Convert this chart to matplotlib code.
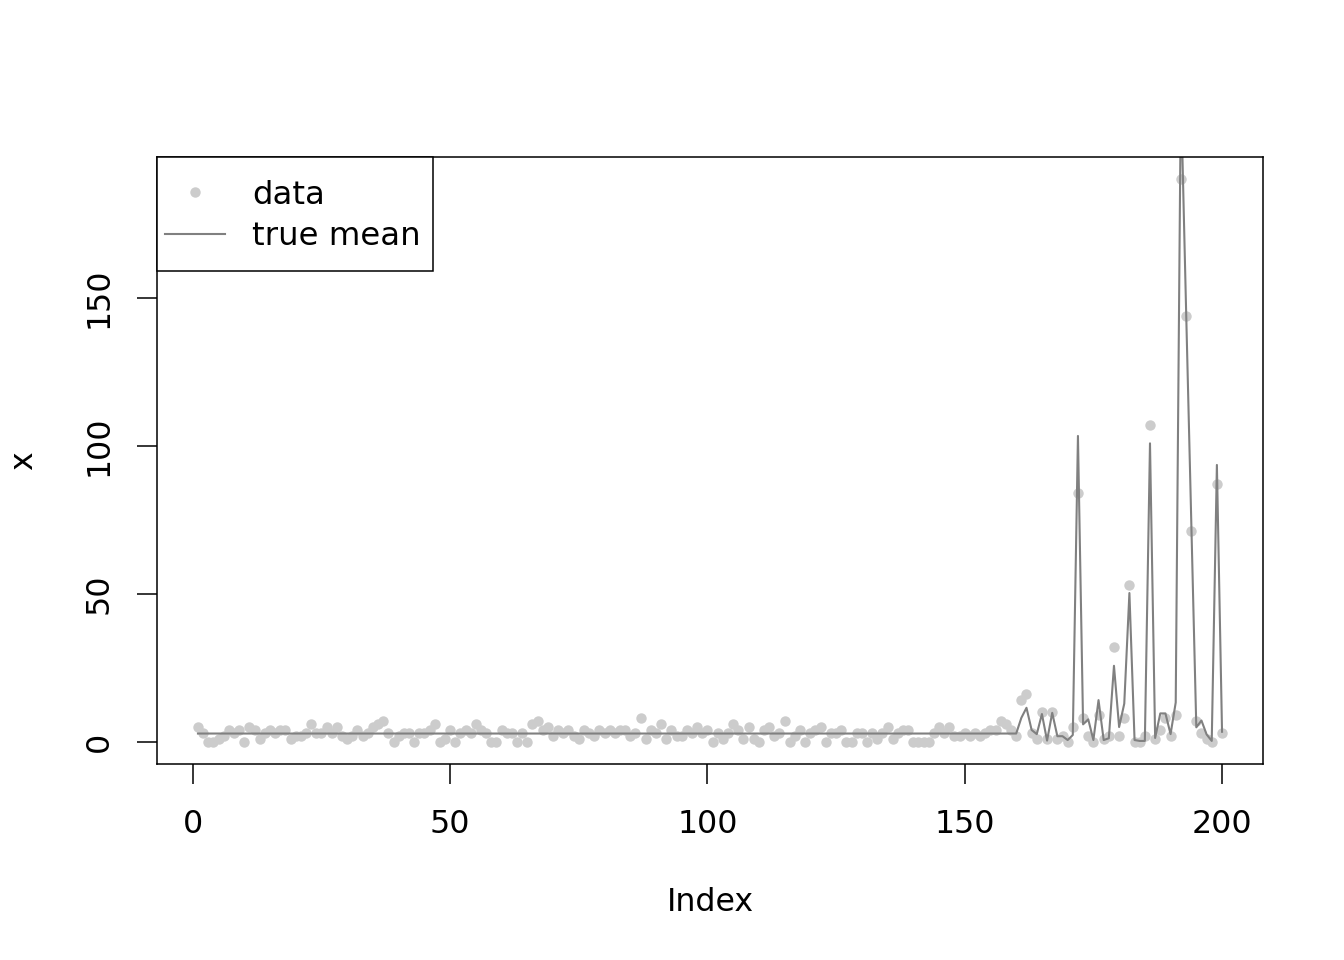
import matplotlib
matplotlib.use("Agg")
import matplotlib.pyplot as plt
from matplotlib.patches import Rectangle
import numpy as np

# observed counts, index 1..200
obs = [5, 3, 0, 0, 1, 2, 4, 3, 4, 0,
       5, 4, 1, 3, 4, 3, 4, 4, 1, 2,
       2, 3, 6, 3, 3, 5, 3, 5, 2, 1,
       2, 4, 2, 3, 5, 6, 7, 3, 0, 2,
       3, 3, 0, 3, 3, 4, 6, 0, 1, 4,
       0, 3, 4, 3, 6, 4, 3, 0, 0, 4,
       3, 3, 0, 3, 0, 6, 7, 4, 5, 2,
       4, 3, 4, 2, 1, 4, 3, 2, 4, 3,
       4, 3, 4, 4, 2, 3, 8, 1, 4, 3,
       6, 1, 4, 2, 2, 4, 3, 5, 3, 4,
       0, 3, 1, 3, 6, 4, 1, 5, 1, 0,
       4, 5, 2, 3, 7, 0, 2, 4, 0, 3,
       4, 5, 0, 3, 3, 4, 0, 0, 3, 3,
       0, 3, 1, 3, 5, 1, 3, 4, 4, 0,
       0, 0, 0, 3, 5, 3, 5, 2, 2, 3,
       2, 3, 2, 3, 4, 4, 7, 6, 4, 2,
       14, 16, 3, 1, 10, 1, 10, 1, 2, 0,
       5, 84, 8, 2, 0, 9, 1, 2, 32, 2,
       8, 53, 0, 0, 2, 107, 1, 4, 8, 2,
       9, 190, 144, 71, 7, 3, 1, 0, 87, 3]

# true mean: flat for the first 160, then varying
mean_flat = [2.7] * 160
mean_tail = [8.0, 11.4, 3.9, 2.5, 9.3, 0.3, 9.7, 1.8, 1.8, 0.5,
             2.2, 103.3, 5.8, 7.5, 0.5, 14.0, 0.5, 1.1, 25.6, 4.9,
             12.8, 50.2, 0.5, 0.2, 0.2, 100.8, 1.2, 9.5, 9.5, 2.5,
             13.2, 220.0, 147.0, 76.0, 4.8, 7.1, 2.4, 0.2, 93.5, 3.3]
true_mean = mean_flat + mean_tail

idx = np.arange(1, len(obs) + 1)

fs = 22.8
plt.rcParams['font.family'] = 'DejaVu Sans'
plt.rcParams['font.size'] = fs

fig = plt.figure(figsize=(13.44, 9.6), dpi=100)
ax = fig.add_axes([157 / 1344, 1 - 764 / 960, (1263 - 157) / 1344, (764 - 157) / 960])

ax.plot(idx, obs, 'o', color='#CCCCCC', markersize=7.5, markeredgewidth=0, label='data')
ax.plot(idx, true_mean, '-', color='#808080', lw=1.5, label='true mean')

# R style 4% padding around data range
xr = idx.max() - idx.min()
ax.set_xlim(idx.min() - 0.04 * xr, idx.max() + 0.04 * xr)
yr = max(obs) - min(obs)
ax.set_ylim(min(obs) - 0.04 * yr, max(obs) + 0.04 * yr)

ax.set_xticks([0, 50, 100, 150, 200])
ax.set_yticks([0, 50, 100, 150])
ax.tick_params(direction='out', length=14.4, width=1.1, labelsize=fs)
ax.tick_params(axis='x', pad=18)
ax.tick_params(axis='y', pad=16, labelrotation=90)
for lab in ax.get_yticklabels():
    lab.set_va('center')
for s in ax.spines.values():
    s.set_linewidth(1.1)

ax.set_xlabel('Index', labelpad=33.5)
ax.set_ylabel('x', labelpad=32)

# legend box drawn like R's: flush with the top-left corner
box = Rectangle((0, 0.812), 0.2495, 0.188, transform=ax.transAxes,
                facecolor='white', edgecolor='black', lw=1.1, zorder=4, clip_on=False)
ax.add_patch(box)
leg = ax.legend(loc='center left', bbox_to_anchor=(0.0072, 0.9028), borderaxespad=0,
                borderpad=0, frameon=False, handlelength=1.85, handletextpad=0.84,
                labelspacing=0.33, numpoints=1, fontsize=23.3)
leg.set_zorder(5)

fig.savefig('out.png', dpi=100)
